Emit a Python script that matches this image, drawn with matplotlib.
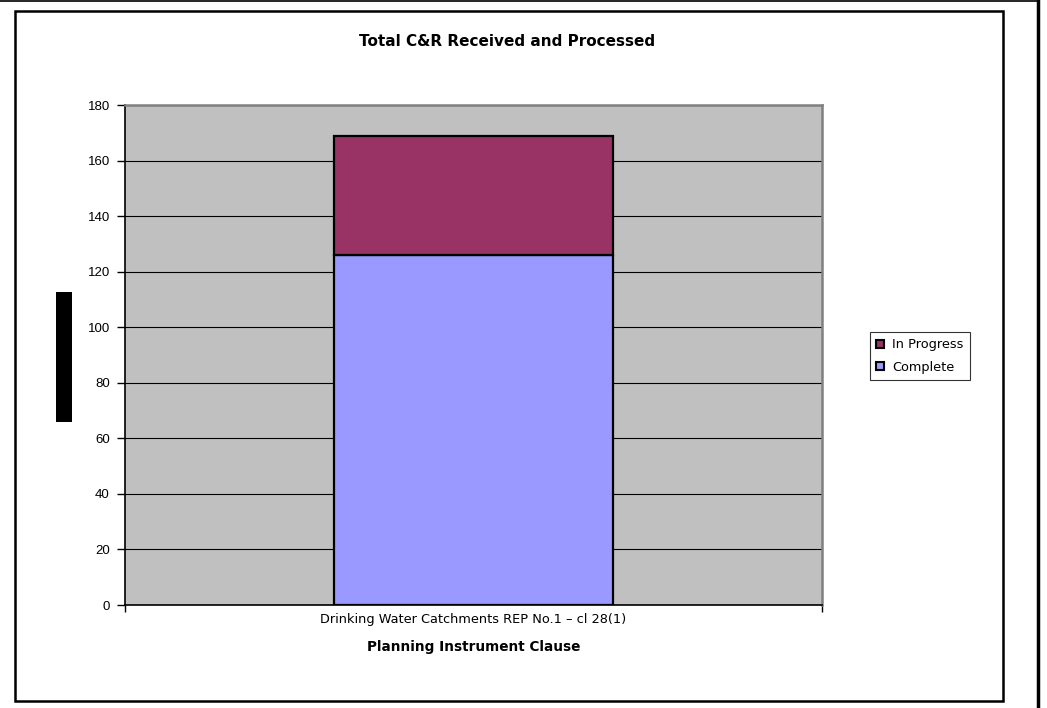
import matplotlib
matplotlib.use("Agg")
import matplotlib.pyplot as plt
from matplotlib.patches import Rectangle, Patch
from matplotlib.lines import Line2D

# Chart data
categories = ["Drinking Water Catchments REP No.1 \u2013 cl 28(1)"]
complete = [126]
in_progress = [43]
series_names = ["In Progress", "Complete"]
y_ticks = [0, 20, 40, 60, 80, 100, 120, 140, 160, 180]

COL_COMPLETE = "#9999FF"
COL_PROGRESS = "#993366"
COL_PLOT_BG = "#C0C0C0"

W, H = 1047, 708
fig = plt.figure(figsize=(W / 100, H / 100), dpi=100)
fig.patch.set_facecolor("white")

def px_box(x0, y0, x1, y1):
    """Convert a pixel box (top-left origin) to figure fraction [l, b, w, h]."""
    return [x0 / W, 1 - y1 / H, (x1 - x0) / W, (y1 - y0) / H]

ax = fig.add_axes(px_box(125, 105, 822, 605))
ax.set_facecolor(COL_PLOT_BG)

xpos = list(range(len(categories)))
ax.bar(xpos, complete, width=0.4, color=COL_COMPLETE, edgecolor="black",
       linewidth=1.6, zorder=3)
ax.bar(xpos, in_progress, width=0.4, bottom=complete, color=COL_PROGRESS,
       edgecolor="black", linewidth=1.6, zorder=3)

ax.set_xlim(-0.5, len(categories) - 0.5)
ax.set_ylim(0, 180)
ax.set_yticks(y_ticks)
ax.yaxis.grid(True, color="black", linewidth=0.8, zorder=1)
ax.set_axisbelow(True)

ax.set_xticks(xpos)
ax.set_xticklabels(categories, fontsize=9.3, family="DejaVu Sans")
ax.set_xticks([-0.5 + i for i in range(len(categories) + 1)], minor=True)
ax.tick_params(axis="x", which="major", length=0, pad=6)
ax.tick_params(axis="x", which="minor", length=5, width=1, direction="out")
ax.tick_params(axis="y", length=6, width=1, direction="out", pad=5)
for lab in ax.get_yticklabels():
    lab.set_fontfamily("Liberation Sans")
    lab.set_fontsize(9.5)

ax.set_xlabel("Planning Instrument Clause", fontsize=9.8, fontweight="bold",
              family="DejaVu Sans", labelpad=10)

for side in ("top", "right"):
    ax.spines[side].set_color("#808080")
    ax.spines[side].set_linewidth(1.8)
ax.spines["left"].set_color("black")
ax.spines["left"].set_linewidth(1.2)
ax.spines["bottom"].set_color("black")
ax.spines["bottom"].set_linewidth(1.2)

# Legend
handles = [Patch(facecolor=COL_PROGRESS, edgecolor="black", linewidth=1.5),
           Patch(facecolor=COL_COMPLETE, edgecolor="black", linewidth=1.5)]
leg = fig.legend(handles, series_names, loc="upper left",
                 bbox_to_anchor=(870 / W, 1 - 332 / H),
                 prop={"family": "DejaVu Sans", "size": 9.3},
                 frameon=True, fancybox=False, handlelength=0.6,
                 handleheight=0.6, handletextpad=0.6, borderpad=0.5,
                 labelspacing=0.7, borderaxespad=0)
leg.get_frame().set_edgecolor("black")
leg.get_frame().set_linewidth(0.8)

# Title
fig.text(507 / W, 1 - 42 / H, "Total C&R Received and Processed",
         ha="center", va="center", fontsize=11, fontweight="bold",
         family="DejaVu Sans")

# Chart frame
l, b, w, h = px_box(15, 11, 1003, 701)
fig.add_artist(Rectangle((l, b), w, h, transform=fig.transFigure,
                         fill=False, edgecolor="black", linewidth=1.8))

# Masked axis title block
l, b, w, h = px_box(56, 292, 72, 422)
fig.add_artist(Rectangle((l, b), w, h, transform=fig.transFigure,
                         facecolor="black", edgecolor="none"))

# Outer page edges
fig.add_artist(Line2D([0, 1038 / W], [1 - 0.6 / H, 1 - 0.6 / H],
                      transform=fig.transFigure, color="black", linewidth=1.2))
fig.add_artist(Line2D([1038 / W, 1038 / W], [0, 1],
                      transform=fig.transFigure, color="black", linewidth=2.5))

fig.savefig("out.png", dpi=100)
